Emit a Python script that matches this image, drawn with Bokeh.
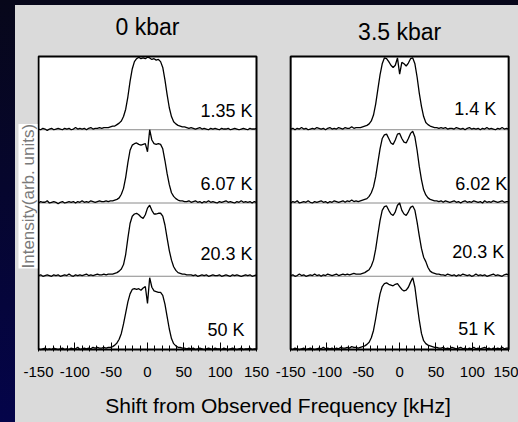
import numpy as np
from bokeh.plotting import figure
from bokeh.layouts import column
from bokeh.models import Range1d, FixedTicker, CustomJSTickFormatter, Label, Title
from bokeh.embed import file_html
from bokeh.resources import INLINE

# ---------------- data ----------------
x_khz = list(range(-150, 151, 3))          # sampling grid, kHz

panel_titles = ["0 kbar", "3.5 kbar"]
temps_0kbar = ["1.35 K", "6.07 K", "20.3 K", "50 K"]       # top -> bottom
temps_35kbar = ["1.4 K", "6.02 K", "20.3 K", "51 K"]
x_title = "Shift from Observed Frequency [kHz]"
y_title = "Intensity(arb. units)"

tick_values = [-150, -100, -50, 0, 50, 100, 150]
minor_tick_values = [-140, -130, -120, -110, -90, -80, -70, -60, -40, -30, -20, -10,
                     10, 20, 30, 40, 60, 70, 80, 90, 110, 120, 130, 140]

# 0 kbar spectra (relative intensity on x_khz grid)
s0_135K = [0.01, 0.00, 0.02, 0.01, -0.01, 0.01, 0.02, 0.00, 0.01, 0.02,
           0.01, 0.00, 0.02, 0.01, 0.02, 0.00, 0.01, 0.03, 0.01, 0.02,
           0.01, 0.02, 0.00, 0.02, 0.03, 0.01, 0.02, 0.02, 0.03, 0.02, 0.03,
           0.03, 0.03, 0.04, 0.05, 0.05, 0.07, 0.09, 0.12, 0.18, 0.28,
           0.45, 0.66, 0.83, 0.93, 0.97, 0.99, 0.97, 0.98, 0.97, 0.99,
           0.98, 0.96, 0.97, 0.95, 0.96, 0.93, 0.85, 0.68, 0.48, 0.30,
           0.18, 0.11, 0.08, 0.06, 0.05, 0.04, 0.04, 0.03, 0.02,
           0.03, 0.02, 0.01, 0.02, 0.03, 0.01, 0.02, 0.01, 0.00, 0.02,
           0.01, 0.02, 0.01, 0.00, 0.02, 0.01, 0.01, 0.02, 0.00, 0.01,
           0.02, 0.01, 0.00, 0.01, 0.02, 0.01, 0.00, 0.02, 0.01, 0.01, 0.02]
s0_607K = [0.00, 0.02, 0.01, 0.01, 0.03, 0.00, 0.01, 0.02, 0.01, -0.01,
           0.01, 0.02, 0.00, 0.01, 0.02, 0.01, 0.02, 0.00, 0.02, 0.01,
           0.03, 0.01, 0.02, 0.01, 0.03, 0.02, 0.01, 0.02, 0.03, 0.02, 0.02,
           0.03, 0.02, 0.03, 0.03, 0.04, 0.05, 0.07, 0.12, 0.20, 0.35,
           0.55, 0.72, 0.79, 0.81, 0.82, 0.80, 0.79, 0.80, 0.81, 0.70,
           1.00, 0.86, 0.81, 0.80, 0.81, 0.80, 0.74, 0.58, 0.40, 0.25,
           0.14, 0.09, 0.06, 0.04, 0.03, 0.03, 0.02, 0.02, 0.03,
           0.01, 0.02, 0.03, 0.01, 0.02, 0.00, 0.02, 0.01, 0.03, 0.01,
           0.02, 0.01, 0.00, 0.02, 0.01, 0.02, 0.03, 0.01, 0.02, 0.01,
           0.00, 0.02, 0.01, 0.03, 0.01, 0.02, 0.01, 0.02, 0.00, 0.02, 0.01]
s0_203K = [0.01, 0.02, 0.00, 0.01, 0.02, 0.01, 0.00, 0.02, 0.01, 0.02,
           0.00, 0.01, 0.02, 0.01, 0.03, 0.01, 0.00, 0.02, 0.01, 0.02,
           0.01, 0.02, 0.03, 0.01, 0.02, 0.01, 0.02, 0.03, 0.02, 0.02, 0.03,
           0.02, 0.03, 0.03, 0.03, 0.04, 0.05, 0.07, 0.10, 0.16, 0.30,
           0.52, 0.72, 0.82, 0.85, 0.86, 0.84, 0.81, 0.79, 0.84, 0.93,
           0.97, 0.90, 0.85, 0.85, 0.86, 0.86, 0.82, 0.70, 0.52, 0.35,
           0.22, 0.13, 0.08, 0.05, 0.04, 0.03, 0.03, 0.02, 0.02,
           0.02, 0.01, 0.02, 0.00, 0.01, 0.02, 0.01, 0.02, 0.00, 0.01,
           0.02, 0.01, 0.01, 0.02, 0.00, 0.01, 0.02, 0.01, 0.00, 0.02,
           0.01, 0.02, 0.01, 0.00, 0.01, 0.02, 0.01, 0.02, 0.00, 0.01, 0.02]
s0_50K = [0.01, 0.00, 0.01, 0.02, 0.00, 0.01, 0.00, 0.02, 0.01, 0.00,
          0.01, 0.02, 0.00, 0.01, 0.00, 0.02, 0.01, 0.01, 0.03, 0.00,
          0.01, 0.02, 0.01, 0.02, 0.01, 0.03, 0.02, 0.03, 0.02, 0.02, 0.03,
          0.02, 0.03, 0.03, 0.04, 0.06, 0.09, 0.14, 0.22, 0.35, 0.50,
          0.65, 0.76, 0.82, 0.83, 0.82, 0.83, 0.81, 0.84, 0.86, 0.63,
          0.98, 0.85, 0.80, 0.79, 0.78, 0.78, 0.74, 0.62, 0.45, 0.28,
          0.15, 0.08, 0.05, 0.03, 0.03, 0.02, 0.02, 0.01, 0.02,
          0.01, 0.02, 0.00, 0.01, 0.02, 0.01, 0.00, 0.01, 0.02, 0.01,
          0.00, 0.02, 0.01, 0.01, 0.00, 0.02, 0.01, 0.00, 0.01, 0.02,
          0.01, 0.00, 0.01, 0.02, 0.00, 0.01, 0.01, 0.02, 0.00, 0.01, 0.01]

# 3.5 kbar spectra
s35_14K = [0.01, 0.02, 0.00, 0.02, 0.01, 0.03, 0.01, 0.02, 0.00, 0.01,
           0.02, 0.01, 0.03, 0.02, 0.01, 0.02, 0.00, 0.02, 0.03, 0.01,
           0.02, 0.01, 0.03, 0.02, 0.01, 0.03, 0.02, 0.02, 0.04, 0.02, 0.03,
           0.03, 0.03, 0.04, 0.05, 0.06, 0.08, 0.12, 0.20, 0.35, 0.55,
           0.75, 0.90, 0.98, 0.97, 0.93, 0.88, 0.85, 0.88, 0.98, 0.76,
           0.92, 0.90, 0.87, 0.91, 0.97, 0.98, 0.90, 0.72, 0.50, 0.32,
           0.18, 0.10, 0.07, 0.05, 0.04, 0.03, 0.03, 0.02, 0.03,
           0.02, 0.03, 0.01, 0.02, 0.02, 0.01, 0.03, 0.02, 0.01, 0.02,
           0.00, 0.02, 0.03, 0.01, 0.02, 0.01, 0.02, 0.00, 0.02, 0.01,
           0.03, 0.01, 0.02, 0.01, 0.00, 0.02, 0.01, 0.03, 0.01, 0.02, 0.01]
s35_602K = [0.00, 0.02, 0.01, 0.03, 0.00, 0.01, 0.02, 0.01, 0.03, 0.01,
            0.00, 0.02, 0.01, 0.02, 0.03, 0.01, 0.02, 0.00, 0.02, 0.01,
            0.03, 0.02, 0.01, 0.02, 0.03, 0.01, 0.03, 0.02, 0.04, 0.02, 0.03,
            0.02, 0.03, 0.04, 0.05, 0.06, 0.09, 0.14, 0.22, 0.36, 0.55,
            0.74, 0.88, 0.93, 0.94, 0.88, 0.82, 0.80, 0.86, 0.94, 0.95,
            0.88, 0.83, 0.82, 0.88, 0.95, 0.98, 0.90, 0.72, 0.50, 0.32,
            0.18, 0.11, 0.07, 0.05, 0.04, 0.03, 0.03, 0.02, 0.03,
            0.01, 0.03, 0.02, 0.01, 0.02, 0.03, 0.01, 0.02, 0.00, 0.02,
            0.03, 0.01, 0.02, 0.01, 0.03, 0.02, 0.01, 0.02, 0.00, 0.03,
            0.01, 0.02, 0.01, 0.03, 0.02, 0.01, 0.02, 0.03, 0.01, 0.02, 0.02]
s35_203K = [0.01, 0.02, 0.00, 0.01, 0.03, 0.01, 0.02, 0.00, 0.01, 0.02,
            0.01, 0.03, 0.01, 0.02, 0.00, 0.02, 0.01, 0.03, 0.02, 0.01,
            0.02, 0.03, 0.01, 0.02, 0.03, 0.02, 0.03, 0.02, 0.03, 0.04, 0.03,
            0.03, 0.03, 0.04, 0.05, 0.07, 0.09, 0.14, 0.22, 0.37, 0.57,
            0.76, 0.90, 0.95, 0.96, 0.90, 0.85, 0.83, 0.88, 0.97, 1.00,
            0.90, 0.85, 0.83, 0.88, 0.94, 0.96, 0.90, 0.74, 0.55, 0.38,
            0.26, 0.20, 0.12, 0.07, 0.05, 0.04, 0.03, 0.03, 0.02,
            0.02, 0.01, 0.03, 0.02, 0.01, 0.02, 0.00, 0.02, 0.01, 0.03,
            0.02, 0.01, 0.02, 0.00, 0.01, 0.03, 0.01, 0.02, 0.01, 0.02,
            0.00, 0.01, 0.02, 0.03, 0.01, 0.02, 0.01, 0.00, 0.02, 0.03, 0.02]
s35_51K = [0.01, 0.00, 0.02, 0.01, 0.00, 0.01, 0.02, 0.00, 0.01, 0.02,
           0.01, 0.00, 0.01, 0.02, 0.01, 0.03, 0.01, 0.02, 0.01, 0.02,
           0.00, 0.02, 0.01, 0.03, 0.02, 0.02, 0.03, 0.02, 0.04, 0.03, 0.03,
           0.02, 0.03, 0.04, 0.05, 0.07, 0.10, 0.16, 0.26, 0.42, 0.60,
           0.76, 0.86, 0.90, 0.91, 0.89, 0.88, 0.87, 0.89, 0.90, 0.86,
           0.82, 0.80, 0.81, 0.85, 0.92, 0.98, 0.85, 0.62, 0.40, 0.22,
           0.12, 0.08, 0.06, 0.05, 0.04, 0.03, 0.03, 0.02, 0.02,
           0.03, 0.01, 0.02, 0.01, 0.03, 0.02, 0.01, 0.02, 0.03, 0.01,
           0.02, 0.00, 0.02, 0.01, 0.03, 0.01, 0.02, 0.01, 0.02, 0.03,
           0.01, 0.02, 0.00, 0.02, 0.01, 0.02, 0.01, 0.03, 0.01, 0.02, 0.02]

spectra_0kbar = [s0_135K, s0_607K, s0_203K, s0_50K]
spectra_35kbar = [s35_14K, s35_602K, s35_203K, s35_51K]
for s in spectra_0kbar + spectra_35kbar:
    assert len(s) == len(x_khz), len(s)

# ---------------- styling / layout constants ----------------
FONT = "Liberation Sans"
GRAY = "#dadada"
OFFSET = 347                      # kHz shift that places the 2nd panel to the right
N_BANDS = 4

label_x_0kbar = [144.5, 144.5, 144.5, 133.5]
label_x_35kbar = [132.8, 148.0, 143.9, 131.5]
label_dy_0kbar = [0.25, 0.26, 0.31, 0.27]
label_dy_35kbar = [0.28, 0.26, 0.33, 0.28]

main = figure(width=503, height=417,
              x_range=Range1d(-151.38, 510.55), y_range=Range1d(-0.027, 4.696),
              min_border_left=22, min_border_right=0,
              min_border_top=0, min_border_bottom=71,
              toolbar_location=None, output_backend="svg",
              y_axis_location=None,
              background_fill_color=GRAY, border_fill_color=GRAY,
              outline_line_color=None)
main.margin = (5, 0, 0, 15)
main.styles = {"background-color": GRAY}
main.title.visible = False
main.grid.visible = False

offsets = [0, OFFSET]
pl = [-150 + o for o in offsets]
pr = [150 + o for o in offsets]

# white panels
main.quad(left=pl, right=pr, bottom=[0, 0], top=[N_BANDS, N_BANDS],
          fill_color="white", line_color=None)

# baselines between stacked spectra
seg_x0, seg_x1, seg_y = [], [], []
for o in offsets:
    for b in range(1, N_BANDS):
        seg_x0.append(-150 + o); seg_x1.append(150 + o); seg_y.append(b)
main.segment(x0=seg_x0, x1=seg_x1, y0=seg_y, y1=seg_y,
             line_color="#8a8a8a", line_width=1)

xs = np.array(x_khz, dtype=float)
for o, specs in zip(offsets, [spectra_0kbar, spectra_35kbar]):
    for k, s in enumerate(specs):
        band = N_BANDS - 1 - k
        main.line(xs + o, np.array(s) + band, line_color="black", line_width=1.3)

# panel frames
main.quad(left=pl, right=pr, bottom=[0, 0], top=[N_BANDS, N_BANDS],
          fill_color=None, line_color="black", line_width=2)

# x axis
xa = main.xaxis[0]
major = tick_values + [t + OFFSET for t in tick_values]
minor = minor_tick_values + [t + OFFSET for t in minor_tick_values]
xa.ticker = FixedTicker(ticks=major, minor_ticks=minor)
xa.formatter = CustomJSTickFormatter(
    code=f"return String(tick > 160 ? tick - {OFFSET} : tick);")
xa.axis_line_color = None
xa.major_tick_in = 9
xa.major_tick_out = 0
xa.minor_tick_in = 6
xa.minor_tick_out = 0
xa.major_tick_line_color = "black"
xa.minor_tick_line_color = "black"
xa.major_label_text_font = FONT
xa.major_label_text_font_size = "15px"
xa.major_label_text_color = "black"
xa.major_label_standoff = 15
xa.axis_label = x_title
xa.axis_label_text_font = FONT
xa.axis_label_text_font_size = "21px"
xa.axis_label_text_font_style = "normal"
xa.axis_label_text_color = "black"
xa.axis_label_standoff = 14

# y title, in a white box, left of the panels
main.add_layout(Title(text=y_title, align="left", offset=83,
                      vertical_align="bottom", standoff=0,
                      text_font=FONT, text_font_size="17px",
                      text_font_style="normal", text_color="#7a7a7a",
                      background_fill_color="white"), "left")

# panel titles
main.add_layout(Label(x=0, y=4.396, text=panel_titles[0], text_font=FONT,
                      text_font_size="23px", text_align="center",
                      text_baseline="middle", text_color="black"))
main.add_layout(Label(x=OFFSET, y=4.328, text=panel_titles[1], text_font=FONT,
                      text_font_size="23px", text_align="center",
                      text_baseline="middle", text_color="black"))

# temperature labels
for k in range(N_BANDS):
    band = N_BANDS - 1 - k
    main.add_layout(Label(x=label_x_0kbar[k], y=band + label_dy_0kbar[k],
                          text=temps_0kbar[k], text_font=FONT, text_font_size="18px",
                          text_align="right", text_baseline="middle", text_color="black"))
    main.add_layout(Label(x=label_x_35kbar[k] + OFFSET, y=band + label_dy_35kbar[k],
                          text=temps_35kbar[k], text_font=FONT, text_font_size="18px",
                          text_align="right", text_baseline="middle", text_color="black"))

layout = column(main, styles={
    "background": "linear-gradient(180deg, #07071a 0%, #06062e 45%, #04044a 100%)"})

open("out.html", "w").write(file_html(layout, INLINE))
